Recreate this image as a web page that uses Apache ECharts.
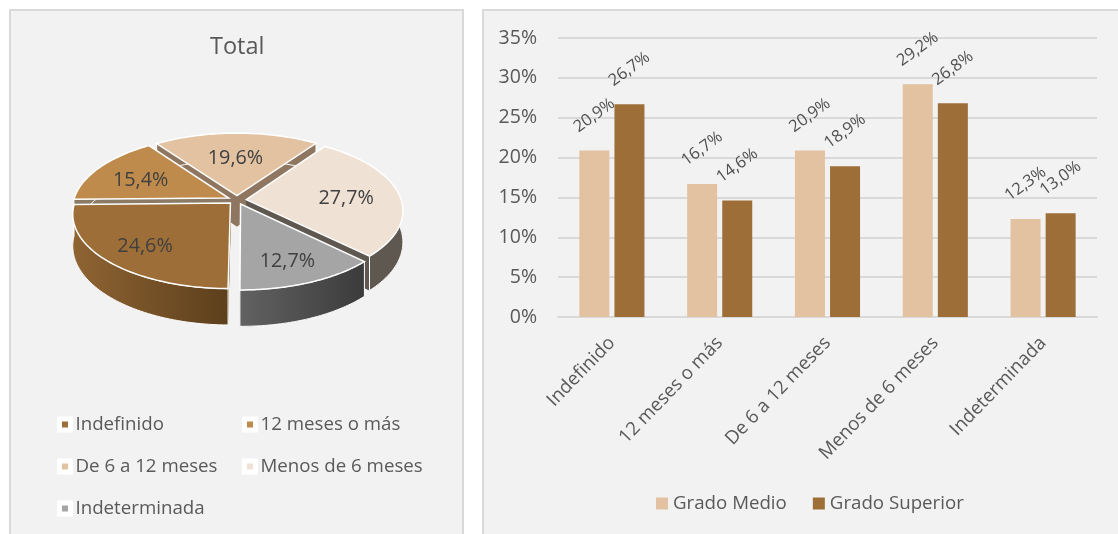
<!DOCTYPE html>
<html><head><meta charset="utf-8">
<style>html,body{margin:0;padding:0;background:#fff}#c{width:1118px;height:534px}</style>
<script src="https://cdn.jsdelivr.net/npm/echarts@6/dist/echarts.min.js"></script>
</head><body><div id="c"></div>
<script>
const pieCategories = ['Indefinido','12 meses o más','De 6 a 12 meses','Menos de 6 meses','Indeterminada'];
const pieValues = [24.6,15.4,19.6,27.7,12.7];
const pieColors = ['#9E6E38','#BF8B4C','#E2C2A0','#EFE1D3','#A5A5A5'];
const wallStart = ['#8F6433','#8A7A66','#8F7660','#5E5850','#626262'];
const wallEnd = ['#5C3F1C','#8A7A66','#8F7660','#5E5850','#3B3B3B'];
const labelFrac = [0.71,0.66,0.62,0.66,0.72];
const pieOrder = [2,1,3,0,4];
const barCategories = ['Indefinido','12 meses o más','De 6 a 12 meses','Menos de 6 meses','Indeterminada'];
const gradoMedio = [20.9,16.7,20.9,29.2,12.3];
const gradoSuperior = [26.7,14.6,18.9,26.8,13.0];

const FONT = '"Open Sans"';
const TXT = '#595959';
const pct = v => v.toFixed(1).replace('.', ',') + '%';

// 3D pie projection
const cx=237, cy=200, R=155, Ry=72.5, P=0.141, D=31, EXPLODE=0.06, START=Math.PI*180.4/180;
const total = pieValues.reduce((a,b)=>a+b,0);
function proj(u,v,down){const s=1/(1-P*v);return [cx+R*u*s, cy+Ry*v*s+(down?D*s:0)];}
function sliceRender(idx){
  return function(params,api){
    let startFrac=0; for(let i=0;i<idx;i++) startFrac+=pieValues[i]/total;
    const val=api.value(0);
    const a0=START+startFrac*2*Math.PI, a1=a0+val/total*2*Math.PI, mid=(a0+a1)/2;
    const ox=Math.sin(mid)*EXPLODE, oy=-Math.cos(mid)*EXPLODE;
    const pt=(a,f,down)=>proj(ox+f*Math.sin(a),oy-f*Math.cos(a),down);
    const arc=[],arcB=[];const n=60;
    for(let i=0;i<=n;i++){const a=a0+(a1-a0)*i/n;arc.push(pt(a,1,false));arcB.push(pt(a,1,true));}
    const apex=pt(0,0,false), apexB=pt(0,0,true);
    const grad=new echarts.graphic.LinearGradient(0,0,1,0,[{offset:0,color:wallStart[idx]},{offset:1,color:wallEnd[idx]}]);
    const poly=(points,fill,stroke,lw,z2)=>({type:'polygon',shape:{points},z2,style:{fill,stroke,lineWidth:lw}});
    const children=[
      poly([apexB].concat(arcB),grad,null,0,1),
      poly([apex,arc[0],arcB[0],apexB],wallStart[idx],null,0,2),
      poly([apex,arc[n],arcB[n],apexB],wallEnd[idx],null,0,2),
      poly(arc.concat(arcB.slice().reverse()),grad,'#ffffff',1,3),
      poly([apex].concat(arc),pieColors[idx],'#ffffff',1.5,4)
    ];
    const lp=pt(mid,labelFrac[idx],false);
    children.push({type:'text',z2:10,style:{text:pct(val),x:lp[0]-1,y:lp[1]+3,align:'center',verticalAlign:'middle',fill:'#404040',font:'19.8px '+FONT}});
    return {type:'group',children};
  };
}
const pieSeries = pieOrder.map((idx,order)=>({
  type:'custom',name:pieCategories[idx],coordinateSystem:'none',z:2+order,silent:true,
  itemStyle:{color:pieColors[idx]},
  data:[[pieValues[idx]]],renderItem:sliceRender(idx)
}));

const legendBase={orient:'horizontal',itemWidth:11,itemHeight:11,icon:'rect',itemGap:0,selectedMode:false,padding:0,
  itemStyle:{borderColor:'#ffffff',borderWidth:5},
  textStyle:{color:TXT,fontFamily:FONT,fontSize:18.7}};
const legendPos=[[57,424],[242,424],[57,466],[242,466],[57,508]];
const pieLegends=pieCategories.map((name,i)=>Object.assign({},legendBase,{
  data:[name],left:legendPos[i][0],top:legendPos[i][1]-9,height:18}));

const chart=echarts.init(document.getElementById('c'),null,{renderer:'canvas'});
chart.setOption({
  animation:false,backgroundColor:'#ffffff',
  textStyle:{fontFamily:FONT},
  graphic:[
    {type:'rect',z:-10,shape:{x:10,y:10,width:453,height:540},style:{fill:'#f2f2f2',stroke:'#d9d9d9',lineWidth:2}},
    {type:'rect',z:-10,shape:{x:483,y:10,width:660,height:540},style:{fill:'#f2f2f2',stroke:'#d9d9d9',lineWidth:2}}
  ],
  title:{text:'Total',left:205,top:30,textStyle:{color:TXT,fontFamily:FONT,fontSize:23.5,fontWeight:'normal'}},
  legend:pieLegends.concat([{
    data:['Grado Medio','Grado Superior'],left:656,top:494,icon:'rect',itemWidth:12,itemHeight:12,itemGap:26,selectedMode:false,padding:0,
    textStyle:{color:TXT,fontFamily:FONT,fontSize:18.7}
  }]),
  grid:{left:558,top:38,width:539,height:279,containLabel:false},
  xAxis:{type:'category',data:barCategories,
    axisLine:{lineStyle:{color:'#d9d9d9',width:2}},axisTick:{show:false},
    axisLabel:{color:TXT,fontFamily:FONT,fontSize:18.7,rotate:46,margin:23,interval:0}},
  yAxis:{type:'value',min:0,max:35,interval:5,
    axisLine:{show:false},axisTick:{show:false},
    splitLine:{lineStyle:{color:'#d9d9d9',width:2}},
    axisLabel:{color:TXT,fontFamily:FONT,fontSize:19.5,margin:21,padding:[6,0,0,0],formatter:v=>v+'%'}},
  series:pieSeries.concat([
    {type:'bar',name:'Grado Medio',data:gradoMedio,barWidth:30,barGap:'17%',itemStyle:{color:'#E2C2A0'},
     label:{show:true,position:'top',distance:35,rotate:36,align:'center',verticalAlign:'middle',color:'#505050',fontFamily:FONT,fontSize:16.5,formatter:p=>pct(p.value)}},
    {type:'bar',name:'Grado Superior',data:gradoSuperior,barWidth:30,itemStyle:{color:'#9E6E38'},
     label:{show:true,position:'top',distance:35,rotate:36,align:'center',verticalAlign:'middle',color:'#505050',fontFamily:FONT,fontSize:16.5,formatter:p=>pct(p.value)}}
  ])
});
</script></body></html>
